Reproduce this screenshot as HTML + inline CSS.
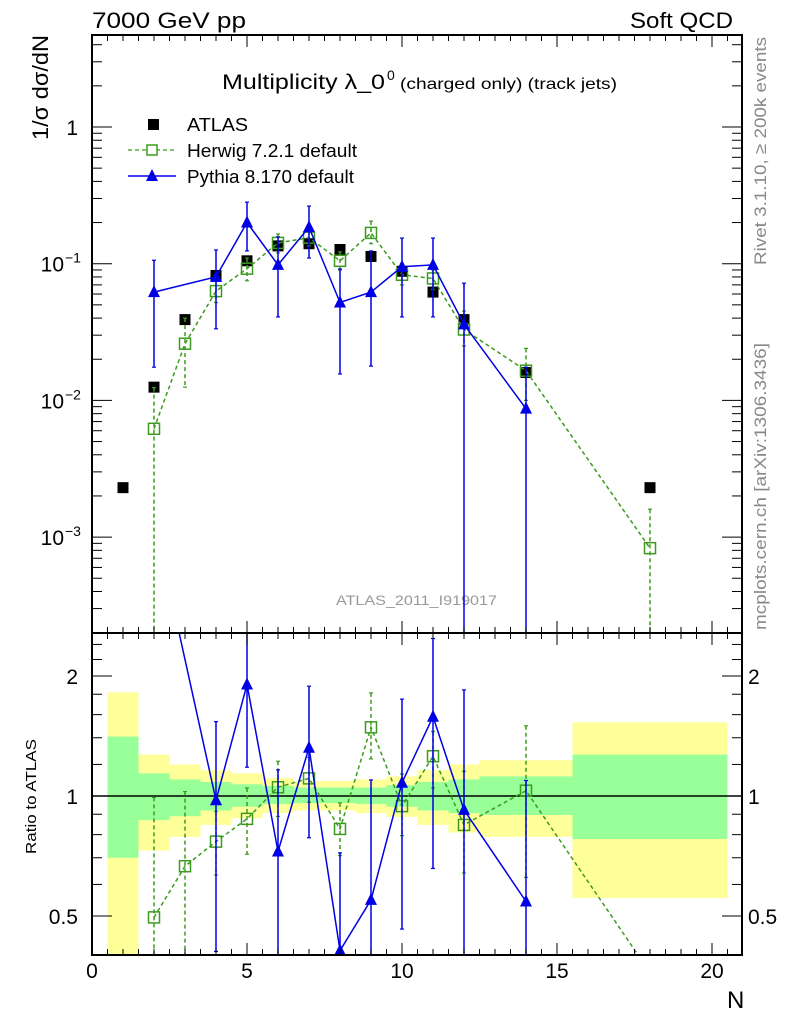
<!DOCTYPE html>
<html><head><meta charset="utf-8"><style>
html,body{margin:0;padding:0;background:#fff;overflow:hidden;}
svg{display:block;font-family:"Liberation Sans",sans-serif;}
</style></head><body>
<svg id="c" width="786" height="1024" viewBox="0 0 786 1024">
<defs>
<clipPath id="cm"><rect x="92" y="35" width="650" height="598"/></clipPath>
<clipPath id="cr"><rect x="92" y="633" width="650" height="322"/></clipPath>
</defs>
<text x="92" y="28" font-size="22" textLength="154" lengthAdjust="spacingAndGlyphs">7000 GeV pp</text>
<text x="630" y="28" font-size="22" textLength="103" lengthAdjust="spacingAndGlyphs">Soft QCD</text>
<g>
<text x="222" y="89" font-size="21" textLength="163" lengthAdjust="spacingAndGlyphs">Multiplicity λ_0</text>
<text x="387" y="80" font-size="14">0</text>
<text x="400" y="89" font-size="16" textLength="217" lengthAdjust="spacingAndGlyphs">(charged only) (track jets)</text>
</g>
<text transform="translate(48,140) rotate(-90)" font-size="22" textLength="105" lengthAdjust="spacingAndGlyphs">1/σ dσ/dN</text>
<text transform="translate(36,854) rotate(-90)" font-size="15" textLength="115" lengthAdjust="spacingAndGlyphs">Ratio to ATLAS</text>
<text x="727" y="1008" font-size="24">N</text>
<text transform="translate(766,265) rotate(-90)" font-size="17" fill="#888" textLength="228" lengthAdjust="spacingAndGlyphs">Rivet 3.1.10, ≥ 200k events</text>
<text transform="translate(766,630) rotate(-90)" font-size="17" fill="#888" textLength="287" lengthAdjust="spacingAndGlyphs">mcplots.cern.ch [arXiv:1306.3436]</text>
<text x="336" y="605" font-size="14" fill="#999" textLength="161" lengthAdjust="spacingAndGlyphs">ATLAS_2011_I919017</text>
<g id="bands" clip-path="url(#cr)"></g>
<g id="mainMarks" clip-path="url(#cm)"></g>
<g id="ratioMarks" clip-path="url(#cr)"></g>
<g id="axes"></g>
<g>
<rect x="148" y="119" width="11" height="11" fill="#000"/>
<text x="187" y="131" font-size="18" textLength="61" lengthAdjust="spacingAndGlyphs">ATLAS</text>
<line x1="128" y1="150" x2="176" y2="150" stroke="#3c9b1e" stroke-width="1.3" stroke-dasharray="4,3"/>
<rect x="147" y="145" width="10" height="10" fill="#fff" stroke="#3c9b1e" stroke-width="1.5"/>
<text x="187" y="157" font-size="18" textLength="170" lengthAdjust="spacingAndGlyphs">Herwig 7.2.1 default</text>
<line x1="128" y1="176" x2="176" y2="176" stroke="#0000e6" stroke-width="1.5"/>
<polygon points="152,169 146,181 158,181" fill="#0000e6"/>
<text x="187" y="183" font-size="18" textLength="167" lengthAdjust="spacingAndGlyphs">Pythia 8.170 default</text>
</g>
</svg>
<script>
// data
const atlasN=[1,2,3,4,5,6,7,8,9,10,11,12,14,18];
const atlasV=[0.0023,0.0125,0.039,0.082,0.105,0.135,0.14,0.127,0.113,0.088,0.062,0.039,0.016,0.0023];
const herwigN=[2,3,4,5,6,7,8,9,10,11,12,14,18];
const herwigV=[0.0062,0.026,0.063,0.092,0.142,0.155,0.105,0.168,0.083,0.078,0.033,0.0165,0.00083];
const herwigUp=[0.0124,0.04,0.075,0.11,0.165,0.175,0.122,0.205,0.1,0.09,0.045,0.024,0.0016];
const herwigDn=[0.00001,0.0125,0.052,0.075,0.12,0.135,0.09,0.14,0.07,0.065,0.025,0.01,0.00001];
const pythiaN=[2,4,5,6,7,8,9,10,11,12,14];
const pythiaV=[0.062,0.08,0.2,0.098,0.185,0.052,0.062,0.095,0.098,0.036,0.0087];
const pythiaUp=[0.106,0.126,0.282,0.157,0.264,0.0914,0.124,0.154,0.154,0.072,0.0175];
const pythiaDn=[0.0175,0.0334,0.124,0.0408,0.11,0.0156,0.0178,0.0408,0.0408,0.00001,0.00001];
const bandLo=[0.5,1.5,2.5,3.5,4.5,5.5,6.5,7.5,8.5,9.5,10.5,11.5,12.5,15.5];
const bandHi=[1.5,2.5,3.5,4.5,5.5,6.5,7.5,8.5,9.5,10.5,11.5,12.5,15.5,20.5];
const yellowUp=[1.82,1.27,1.2,1.16,1.14,1.11,1.09,1.09,1.1,1.12,1.16,1.2,1.23,1.53];
const yellowDn=[0.3,0.73,0.79,0.846,0.88,0.906,0.92,0.92,0.906,0.886,0.846,0.81,0.79,0.555];
const greenUp=[1.41,1.14,1.1,1.084,1.07,1.06,1.05,1.05,1.05,1.065,1.084,1.1,1.12,1.27];
const greenDn=[0.7,0.87,0.89,0.92,0.94,0.955,0.96,0.96,0.955,0.94,0.92,0.906,0.896,0.78];
const xTicks=[0,5,10,15,20];

const NS='http://www.w3.org/2000/svg';
const X=n=>92+31*n;
const Ym=v=>127-136.7*Math.log10(v);
const Yr=r=>796-120*Math.log2(r);
function mk(tag,attrs,parent){const e=document.createElementNS(NS,tag);for(const k in attrs)e.setAttribute(k,attrs[k]);parent.appendChild(e);return e;}
const G={bands:document.getElementById('bands'),main:document.getElementById('mainMarks'),ratio:document.getElementById('ratioMarks'),axes:document.getElementById('axes')};
const GREEN='#3c9b1e',BLUE='#0000e6';
const atlasAt=n=>atlasV[atlasN.indexOf(n)];

for(let i=0;i<bandLo.length;i++){
  let r=mk('rect',{x:X(bandLo[i]),y:Yr(yellowUp[i]),width:X(bandHi[i])-X(bandLo[i]),height:Yr(yellowDn[i])-Yr(yellowUp[i]),fill:'#ffff99'},G.bands);
  
  
  let g=mk('rect',{x:X(bandLo[i]),y:Yr(greenUp[i]),width:X(bandHi[i])-X(bandLo[i]),height:Yr(greenDn[i])-Yr(greenUp[i]),fill:'#99ff99'},G.bands);
  
  
}
const one=mk('line',{x1:92,x2:742,y1:Yr(1),y2:Yr(1),stroke:'#000','stroke-width':1.5},G.bands);



function series(par,Ns,vals,ups,dns,Yf,color,dash,norm,kind,lo,hi){
  const pts=Ns.map((n,i)=>X(n)+','+Yf(vals[i]/norm(n)).toFixed(1)).join(' ');
  const pl=mk('polyline',{points:pts,fill:'none',stroke:color,'stroke-width':1.5},par);
  if(dash)pl.setAttribute('stroke-dasharray','4,3');
  
  
  Ns.forEach((n,i)=>{
    const x=X(n),yu=Yf(ups[i]/norm(n)),yd=Yf(dns[i]/norm(n)),y=Yf(vals[i]/norm(n));
    if(y<lo||y>hi)return;
    const el=mk('line',{x1:x,x2:x,y1:yu,y2:yd,stroke:color,'stroke-width':1.5},par);
    if(dash)el.setAttribute('stroke-dasharray','4,3');
    
    
    mk('line',{x1:x-2,x2:x+2,y1:yu,y2:yu,stroke:color,'stroke-width':1.2},par);
    mk('line',{x1:x-2,x2:x+2,y1:yd,y2:yd,stroke:color,'stroke-width':1.2},par);
    let m;
    if(kind.indexOf('herwig')===0)m=mk('rect',{x:x-5.5,y:y-5.5,width:11,height:11,fill:'none',stroke:color,'stroke-width':1.5},par);
    else m=mk('polygon',{points:`${x},${y-7} ${x-6},${y+5} ${x+6},${y+5}`,fill:color},par);
    
    
  });
}
atlasN.forEach((n,i)=>{
  const m=mk('rect',{x:X(n)-5.5,y:Ym(atlasV[i])-5.5,width:11,height:11,fill:'#000'},G.main);
  
  
});
series(G.main,herwigN,herwigV,herwigUp,herwigDn,Ym,GREEN,true,()=>1,'herwig',0,2000);
series(G.main,pythiaN,pythiaV,pythiaUp,pythiaDn,Ym,BLUE,false,()=>1,'pythia',0,2000);
series(G.ratio,herwigN,herwigV,herwigUp,herwigDn,Yr,GREEN,true,atlasAt,'herwig-ratio',626,962);
series(G.ratio,pythiaN,pythiaV,pythiaUp,pythiaDn,Yr,BLUE,false,atlasAt,'pythia-ratio',626,962);

[[35,633],[633,955]].forEach(([t,b],k)=>{
  const f=mk('rect',{x:92,y:t,width:650,height:b-t,fill:'none',stroke:'#000','stroke-width':2},G.axes);
  
  
  for(let h=0;h<=42;h++){
    const n=h/2, x=X(n); if(x>741)break;
    const L=(h%10===0)?12:6;
    mk('line',{x1:x,x2:x,y1:t,y2:t+L,stroke:'#000','stroke-width':1},G.axes);
    mk('line',{x1:x,x2:x,y1:b,y2:b-L,stroke:'#000','stroke-width':1},G.axes);
  }
});
xTicks.forEach(v=>{
  const t=mk('text',{x:X(v),y:978,'font-size':21,'text-anchor':'middle'},G.axes);
  t.textContent=v;
  
  
});
for(let e=-4;e<=0;e++)for(let m=1;m<10;m++){
  const y=Ym(m*Math.pow(10,e)); if(y<35||y>633)continue;
  const L=m===1?20:10;
  mk('line',{x1:92,x2:92+L,y1:y,y2:y,stroke:'#000','stroke-width':1},G.axes);
  mk('line',{x1:742,x2:742-L,y1:y,y2:y,stroke:'#000','stroke-width':1},G.axes);
}
[[0,'1'],[-1,'10'],[-2,'10'],[-3,'10']].forEach(([e,s])=>{
  const t=mk('text',{x:e===0?78:64,y:Ym(Math.pow(10,e))+8,'font-size':21,'text-anchor':'end'},G.axes);
  t.textContent=s;
  
  
  if(e<0){const sp=mk('text',{x:65,y:Ym(Math.pow(10,e))-1,'font-size':14},G.axes);sp.textContent='−'+(-e);}
});
[0.4,0.5,0.6,0.7,0.8,0.9,1,1.2,1.4,1.6,1.8,2,2.2,2.4].forEach(r=>{
  const y=Yr(r); const L=(r===0.5||r===1||r===2)?20:10;
  mk('line',{x1:92,x2:92+L,y1:y,y2:y,stroke:'#000','stroke-width':1},G.axes);
  mk('line',{x1:742,x2:742-L,y1:y,y2:y,stroke:'#000','stroke-width':1},G.axes);
});
[[2,'2'],[1,'1'],[0.5,'0.5']].forEach(([r,s])=>{
  const a=mk('text',{x:78,y:Yr(r)+8,'font-size':21,'text-anchor':'end'},G.axes);a.textContent=s;
  
  
  const b=mk('text',{x:748,y:Yr(r)+8,'font-size':21},G.axes);b.textContent=s;
  
  
});
</script>
</body></html>
